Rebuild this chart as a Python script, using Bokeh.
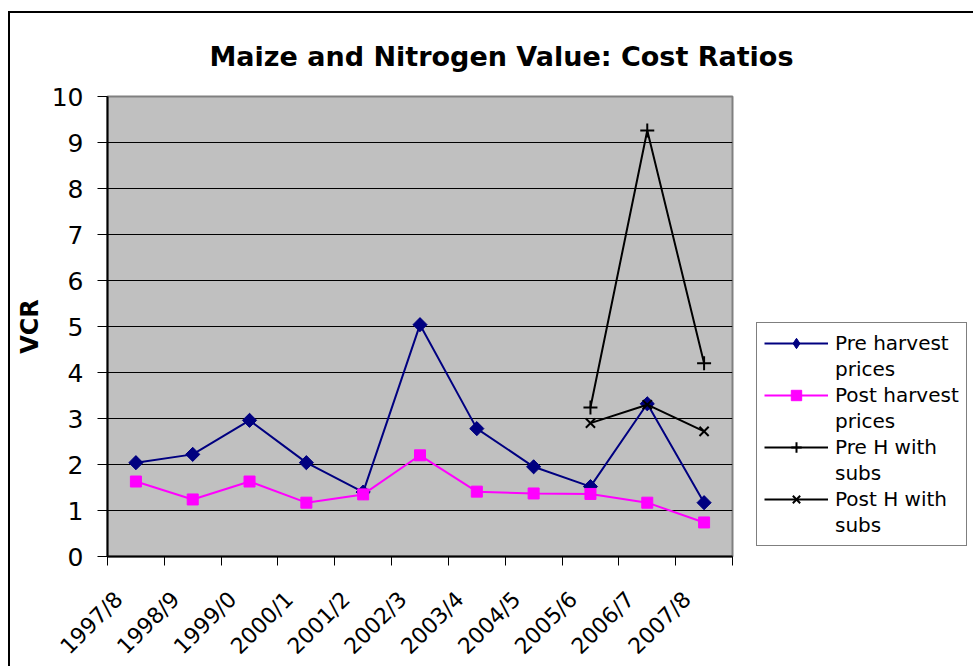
import numpy as np
from bokeh.plotting import figure
from bokeh.models import FixedTicker, Legend, LegendItem
from bokeh.embed import file_html
from bokeh.resources import INLINE

# ---- data ----
seasons = ["1997/8", "1998/9", "1999/0", "2000/1", "2001/2", "2002/3",
           "2003/4", "2004/5", "2005/6", "2006/7", "2007/8"]
pre_harvest = [2.04, 2.22, 2.96, 2.04, 1.40, 5.04, 2.78, 1.95, 1.52, 3.32, 1.17]
post_harvest = [1.63, 1.24, 1.63, 1.17, 1.35, 2.20, 1.41, 1.37, 1.36, 1.17, 0.74]
subs_seasons = ["2005/6", "2006/7", "2007/8"]
pre_h_subs = [3.24, 9.26, 4.20]
post_h_subs = [2.90, 3.30, 2.72]
y_ticks = list(range(0, 11))
series_labels = [("Pre harvest", "prices"), ("Post harvest", "prices"),
                 ("Pre H with", "subs"), ("Post H with", "subs")]

xs = [i + 0.5 for i in range(len(seasons))]
xs_subs = [seasons.index(s) + 0.5 for s in subs_seasons]
# rotated labels end a little before the category centre (as in Excel)
label_pos = [x - 0.3 for x in xs]

FONT = "DejaVu Sans"

p = figure(frame_width=625, frame_height=460,
           x_range=(0, len(seasons)), y_range=(0, 10),
           output_backend="svg", toolbar_location=None,
           min_border_left=97, min_border_right=240,
           min_border_top=83, min_border_bottom=109)
p.styles = {"margin-left": "8px", "margin-top": "11px",
            "border-left": "2px solid black", "border-top": "2px solid black"}
p.background_fill_color = "#C0C0C0"
p.border_fill_color = "white"
p.outline_line_color = "#808080"
p.outline_line_width = 2

# title
p.title.text = "Maize and Nitrogen Value: Cost Ratios"
p.title.text_font = FONT
p.title.text_font_size = "27px"
p.title.text_font_style = "bold"
p.title.text_color = "black"
p.title.align = "left"
p.title.offset = 102
p.title.standoff = 50

# x axis: labels near category centres, ticks at category boundaries
xax = p.xaxis[0]
xax.ticker = FixedTicker(ticks=label_pos, minor_ticks=list(range(0, len(seasons) + 1)))
xax.major_label_overrides = {x: s for x, s in zip(label_pos, seasons)}
xax.major_tick_in = 0
xax.major_tick_out = 0
xax.minor_tick_in = 0
xax.minor_tick_out = 9
xax.minor_tick_line_color = "black"
xax.minor_tick_line_width = 1
xax.axis_line_color = "black"
xax.axis_line_width = 2
xax.major_label_orientation = np.pi / 4
xax.major_label_text_font = FONT
xax.major_label_text_font_size = "22px"
xax.major_label_text_color = "black"
xax.major_label_standoff = 30

# y axis
yax = p.yaxis[0]
yax.ticker = FixedTicker(ticks=y_ticks)
yax.major_tick_in = 0
yax.major_tick_out = 10
yax.major_tick_line_color = "black"
yax.axis_line_color = "black"
yax.axis_line_width = 2
yax.major_label_text_font = FONT
yax.major_label_text_font_size = "25px"
yax.major_label_text_color = "black"
yax.major_label_standoff = 14
yax.axis_label = "VCR"
yax.axis_label_text_font = FONT
yax.axis_label_text_font_size = "24px"
yax.axis_label_text_font_style = "bold"
yax.axis_label_text_color = "black"
yax.axis_label_standoff = 5

p.xgrid.visible = False
p.ygrid.ticker = FixedTicker(ticks=y_ticks)
p.ygrid.grid_line_color = "black"
p.ygrid.grid_line_width = 1

# series
NAVY = "#000080"
MAGENTA = "#FF00FF"
l1 = p.line(xs, pre_harvest, line_color=NAVY, line_width=2)
# diamond key (drawn beneath the rotated squares, used for the legend swatch)
m1_key = p.scatter(xs, pre_harvest, marker="diamond", size=13,
                   fill_color=NAVY, line_color=NAVY)
m1 = p.scatter(xs, pre_harvest, marker="square", angle=np.pi / 4, size=10,
               fill_color=NAVY, line_color=NAVY)
l2 = p.line(xs, post_harvest, line_color=MAGENTA, line_width=2)
m2 = p.scatter(xs, post_harvest, marker="square", size=11,
               fill_color=MAGENTA, line_color=MAGENTA)
l3 = p.line(xs_subs, pre_h_subs, line_color="black", line_width=2)
m3 = p.scatter(xs_subs, pre_h_subs, marker="cross", size=14,
               line_color="black", line_width=2)
l4 = p.line(xs_subs, post_h_subs, line_color="black", line_width=2)
m4 = p.scatter(xs_subs, post_h_subs, marker="x", size=13,
               line_color="black", line_width=2)

items = []
for (first, second), rs in zip(series_labels, [[l1, m1_key], [l2, m2], [l3, m3], [l4, m4]]):
    items.append(LegendItem(label=first, renderers=rs))
    items.append(LegendItem(label=second, renderers=[]))

legend = Legend(items=items, location=(24, 10), padding=7,
                glyph_width=64, glyph_height=26, label_height=26,
                label_standoff=7, spacing=0,
                label_text_font=FONT, label_text_font_size="20px",
                label_text_color="black",
                border_line_color="black", border_line_width=1,
                background_fill_color="white", background_fill_alpha=1)
p.add_layout(legend, "right")

open("out.html", "w").write(file_html(p, INLINE))
